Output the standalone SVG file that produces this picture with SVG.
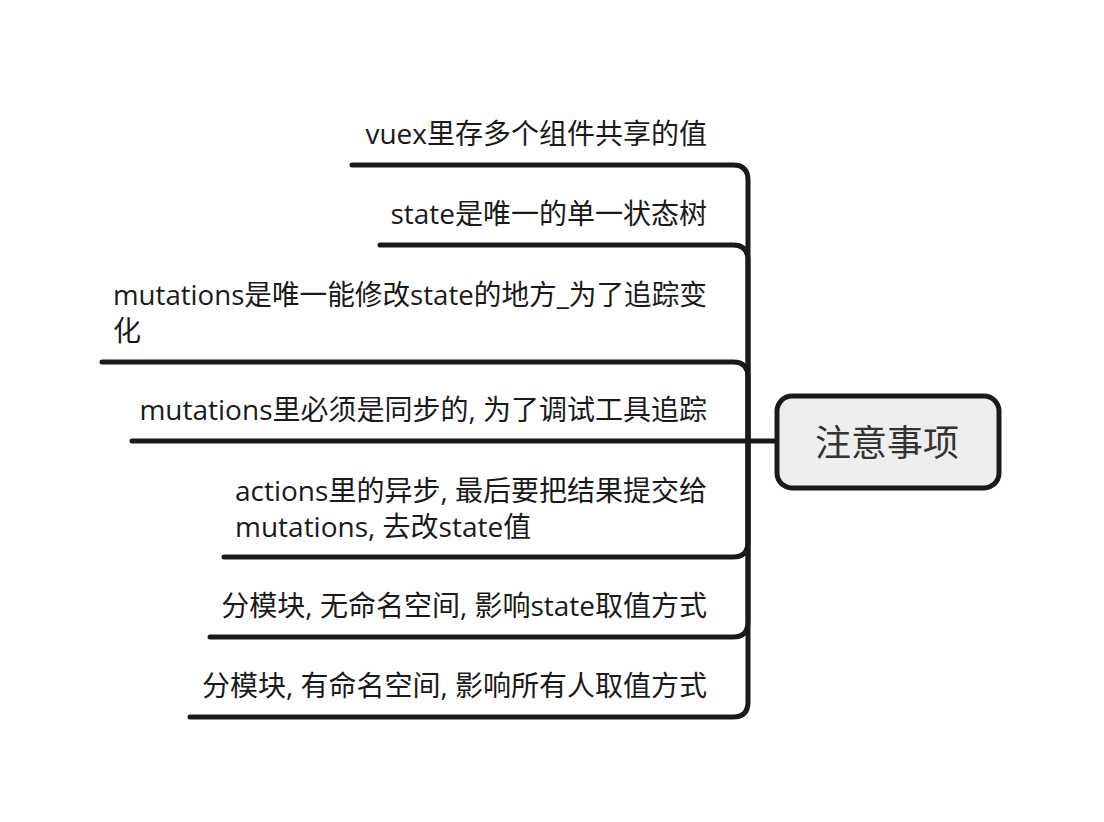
<svg xmlns="http://www.w3.org/2000/svg" width="1104" height="822" viewBox="0 0 1104 822">
<style>
.t{font-family:"Open Sans","Noto Sans CJK SC",sans-serif;font-size:28px;fill:#1a1a1a}
.e{text-anchor:end}
.c{fill:none;stroke:#1a1a1a;stroke-width:5;stroke-linecap:round;stroke-linejoin:round}
</style>
<rect width="1104" height="822" fill="#ffffff"/>
<g id="connectors" class="c">
<path d="M776,441 L748,441"/>
<path d="M748,441 L748,180 Q748,165 733,165 L352,165"/>
<path d="M748,441 L748,260 Q748,245 733,245 L380,245"/>
<path d="M748,441 L748,377 Q748,362 733,362 L102,362"/>
<path d="M748,441 L132,441"/>
<path d="M748,441 L748,542 Q748,557 733,557 L224,557"/>
<path d="M748,441 L748,622 Q748,637 733,637 L210,637"/>
<path d="M748,441 L748,702 Q748,717 733,717 L190,717"/>
</g>
<g id="center">
<rect x="777" y="396" width="222" height="92" rx="15" fill="#eeeeee" stroke="#1a1a1a" stroke-width="5"/>
<text x="887" y="456" text-anchor="middle" style="font-family:'Open Sans','Noto Sans CJK SC',sans-serif;font-size:36px;fill:#333333">注意事项</text>
</g>
<g id="n1"><text class="t e" x="707" y="144">vuex里存多个组件共享的值</text></g>
<g id="n2"><text class="t e" x="707" y="224">state是唯一的单一状态树</text></g>
<g id="n3"><text class="t" x="113" y="305" textLength="594" lengthAdjust="spacingAndGlyphs">mutations是唯一能修改state的地方_为了追踪变</text><text class="t" x="113" y="341">化</text></g>
<g id="n4"><text class="t e" x="707" y="420">mutations里必须是同步的, 为了调试工具追踪</text></g>
<g id="n5"><text class="t" x="235" y="501">actions里的异步, 最后要把结果提交给</text><text class="t" x="235" y="537">mutations, 去改state值</text></g>
<g id="n6"><text class="t e" x="707" y="616">分模块, 无命名空间, 影响state取值方式</text></g>
<g id="n7"><text class="t e" x="707" y="696">分模块, 有命名空间, 影响所有人取值方式</text></g>
</svg>
